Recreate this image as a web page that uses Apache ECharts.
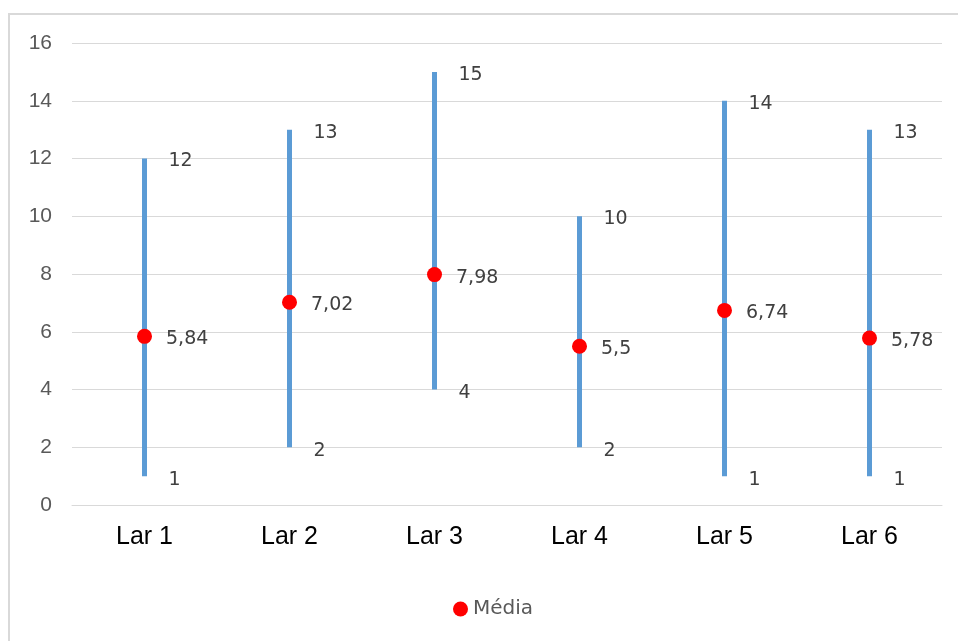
<!DOCTYPE html>
<html>
<head>
<meta charset="utf-8">
<script src="https://cdn.jsdelivr.net/npm/echarts@6/dist/echarts.min.js"></script>
<style>
html,body{margin:0;padding:0;background:#fff;}
#chart{width:958px;height:641px;}
</style>
</head>
<body>
<div id="chart"></div>
<script>
// Range (min–max) per house, with the mean marked in red
const categories = ['Lar 1', 'Lar 2', 'Lar 3', 'Lar 4', 'Lar 5', 'Lar 6'];
const maxValues = [12, 13, 15, 10, 14, 13];
const minValues = [1, 2, 4, 2, 1, 1];
const meanValues = [5.84, 7.02, 7.98, 5.5, 6.74, 5.78];

const fmt = v => String(v).replace('.', ',');
const labelFont = 'DejaVu Sans, Verdana, sans-serif';

const chart = echarts.init(document.getElementById('chart'));

const rangeData = categories.map((c, i) => [i, minValues[i], maxValues[i]]);

chart.setOption({
  animation: false,
  backgroundColor: '#ffffff',
  graphic: [{
    type: 'rect',
    shape: { x: 9, y: 14, width: 1000, height: 700 },
    style: { fill: 'none', stroke: '#d9d9d9', lineWidth: 2 },
    silent: true
  }],
  grid: { left: 72, right: 16, top: 43, bottom: 136 },
  legend: {
    data: ['Média'],
    bottom: 17,
    left: 448,
    itemWidth: 15,
    itemHeight: 15,
    itemGap: 6,
    textStyle: { color: '#595959', fontSize: 20, fontFamily: labelFont }
  },
  xAxis: {
    type: 'category',
    data: categories,
    boundaryGap: true,
    axisLine: { lineStyle: { color: '#d9d9d9', width: 1 } },
    axisTick: { show: false },
    axisLabel: { color: '#000000', fontSize: 25, fontFamily: 'Liberation Sans, Arial, sans-serif', margin: 20 }
  },
  yAxis: {
    type: 'value',
    min: 0, max: 16, interval: 2,
    axisLine: { show: false },
    axisTick: { show: false },
    splitLine: { lineStyle: { color: '#d9d9d9', width: 1 } },
    axisLabel: { color: '#595959', fontSize: 21, fontFamily: 'Liberation Sans, Arial, sans-serif', margin: 20 }
  },
  series: [
    {
      name: 'Intervalo',
      type: 'custom',
      data: rangeData,
      encode: { x: 0, y: [1, 2] },
      renderItem: function (params, api) {
        const x = api.value(0);
        const lo = api.coord([x, api.value(1)]);
        const hi = api.coord([x, api.value(2)]);
        return {
          type: 'group',
          children: [
            {
              type: 'line',
              shape: { x1: lo[0], y1: lo[1], x2: hi[0], y2: hi[1] },
              style: { stroke: '#5b9bd5', lineWidth: 5 }
            },
            {
              type: 'text',
              x: hi[0] + 24, y: hi[1] + 3,
              style: {
                text: fmt(api.value(2)), fill: '#404040', fontSize: 19,
                fontFamily: labelFont, verticalAlign: 'middle', align: 'left'
              }
            },
            {
              type: 'text',
              x: lo[0] + 24, y: lo[1] + 4,
              style: {
                text: fmt(api.value(1)), fill: '#404040', fontSize: 19,
                fontFamily: labelFont, verticalAlign: 'middle', align: 'left'
              }
            }
          ]
        };
      },
      z: 2
    },
    {
      name: 'Média',
      type: 'scatter',
      data: meanValues,
      symbol: 'circle',
      symbolSize: 15,
      itemStyle: { color: '#ff0000', opacity: 1 },
      label: {
        show: true,
        position: 'right',
        distance: 14,
        offset: [0, 3],
        color: '#404040',
        fontSize: 19,
        fontFamily: labelFont,
        formatter: p => fmt(p.value)
      },
      z: 3
    }
  ]
});
</script>
</body>
</html>
